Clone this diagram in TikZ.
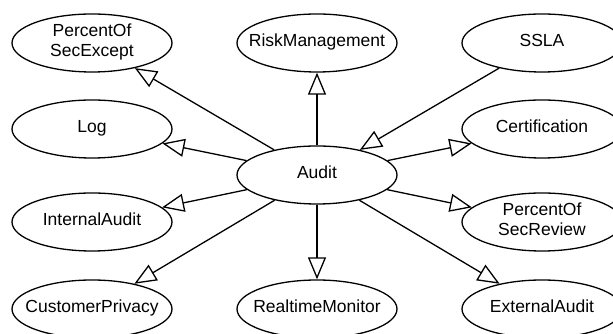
\documentclass[tikz,border=0pt]{standalone}
\usepackage{fontspec}
\setmainfont{Liberation Sans}
\usetikzlibrary{arrows.meta,shapes.geometric}
\newcommand{\lbl}[1]{\makebox[0pt][c]{\begin{tabular}{@{}c@{}}#1\end{tabular}}}
\begin{document}
\begin{tikzpicture}[x=1pt,y=1pt,
  concept/.style={ellipse,draw,line width=1.3pt,minimum width=160pt,minimum height=58pt,inner sep=0pt,
    font=\fontsize{17.5}{20}\selectfont},
  rel/.style={line width=1.3pt,-{Triangle[open,length=22pt,width=18pt,line width=1.3pt]}}]
\useasboundingbox (0,0) rectangle (613,334);
\node[concept] (audit) at (317,159) {\lbl{Audit}};
\node[concept] (pse) at (92,291) {\lbl{PercentOf\\SecExcept}};
\node[concept] (risk) at (317,291) {\lbl{RiskManagement}};
\node[concept] (ssla) at (542,291) {\lbl{SSLA}};
\node[concept] (log) at (92,205) {\lbl{Log}};
\node[concept] (cert) at (542,205) {\lbl{Certification}};
\node[concept] (int) at (92,112) {\lbl{InternalAudit}};
\node[concept] (psr) at (542,112) {\lbl{PercentOf\\SecReview}};
\node[concept] (cust) at (92,25) {\lbl{CustomerPrivacy}};
\node[concept] (rt) at (317,25) {\lbl{RealtimeMonitor}};
\node[concept] (ext) at (542,25) {\lbl{ExternalAudit}};
\draw[rel] (audit) -- (pse);
\draw[rel] (audit) -- (risk);
\draw[rel] (ssla) -- (audit);
\draw[rel] (audit) -- (log);
\draw[rel] (audit) -- (cert);
\draw[rel] (audit) -- (int);
\draw[rel] (audit) -- (psr);
\draw[rel] (audit) -- (cust);
\draw[rel] (audit) -- (rt);
\draw[rel] (audit) -- (ext);
\end{tikzpicture}
\end{document}
